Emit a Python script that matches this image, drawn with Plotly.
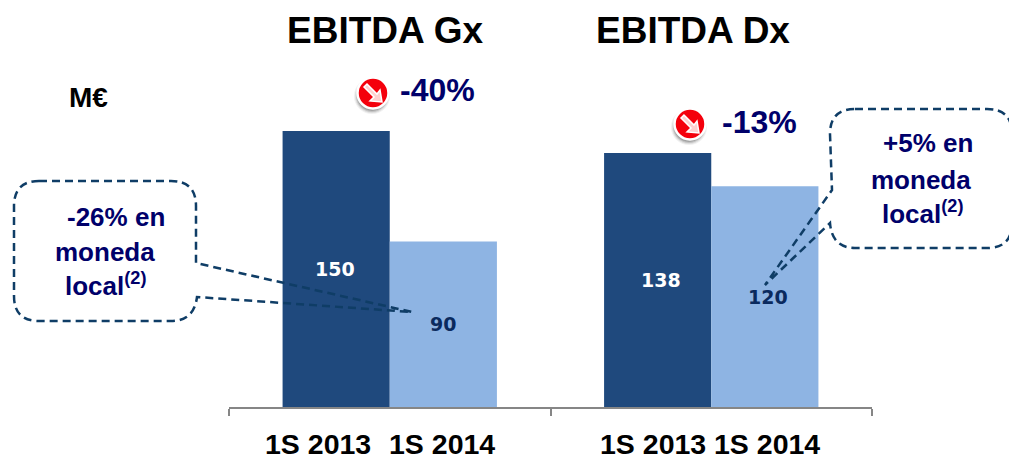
import plotly.graph_objects as go

groups = ["EBITDA Gx", "EBITDA Dx"]
period_labels = ["1S 2013", "1S 2014"]
values_2013 = [150, 138]
values_2014 = [90, 120]

W, H = 1009, 460
L, R, T, B = 229, 872, 0, 407
NAVY = "#00006A"
LINE = "#0F3D66"


def px(x):
    return (x - L) / (R - L)


def py(y):
    return (B - y) / (B - T)


def path(cmds):
    out = []
    for c in cmds:
        if isinstance(c, str):
            out.append(c)
        else:
            out.append(f"{px(c[0]):.5f},{py(c[1]):.5f}")
    return " ".join(out)


def rich(x, y, text, size, color=NAVY, family="Liberation Sans"):
    return dict(xref="paper", yref="paper", x=px(x), y=py(y), text=text, showarrow=False,
                xanchor="center", yanchor="middle",
                font=dict(size=size, color=color, family=family))


def value_label(x, value, color):
    return dict(xref="paper", yref="y", x=px(x), y=value / 2, text=f"<b>{value}</b>", showarrow=False,
                xanchor="center", yanchor="middle",
                font=dict(size=19, color=color, family="DejaVu Sans"))


def circle(cx, cy, r, **kw):
    return dict(type="circle", xref="paper", yref="paper", x0=px(cx - r), x1=px(cx + r),
                y0=py(cy + r), y1=py(cy - r), layer="above", **kw)


def icon(cx, cy):
    s = []
    for r, op in ((18, 0.06), (17, 0.08), (16, 0.12), (15, 0.16)):
        s.append(circle(cx - 1, cy + 3, r, fillcolor="#000000", opacity=op, line=dict(width=0)))
    s.append(circle(cx, cy, 15.5, fillcolor="#F4000C", line=dict(color="#FFFFFF", width=2.5)))
    arrow = path(["M", (cx - 9, cy - 6), "L", (cx - 6, cy - 9), "L", (cx + 4, cy + 1), "L", (cx + 7, cy - 3),
                  "L", (cx + 9, cy + 9), "L", (cx - 3, cy + 8), "L", (cx + 1, cy + 4), "Z"])
    s.append(dict(type="path", xref="paper", yref="paper", path=arrow, layer="above",
                  fillcolor="#FFD0D0", line=dict(color="#FFFFFF", width=1.5)))
    return s


def callout(cmds):
    return dict(type="path", xref="paper", yref="paper", path=path(cmds), layer="above",
                fillcolor="rgba(0,0,0,0)", line=dict(color=LINE, width=2.5, dash="8px,5px"))


fig = go.Figure()
fig.add_bar(x=groups, y=values_2013, name=period_labels[0], marker=dict(color="#1F497D", line=dict(width=0)))
fig.add_bar(x=groups, y=values_2014, name=period_labels[1], marker=dict(color="#8EB4E3", line=dict(width=0)))

shapes = icon(373, 93) + icon(690, 124)
shapes.append(callout(["M", (39, 181), "L", (171, 181), "Q", (196, 181), (196, 206), "L", (196, 263),
                       "L", (412, 312), "L", (197, 297), "Q", (194, 321), (171, 321), "L", (39, 321),
                       "Q", (14, 321), (14, 296), "L", (14, 206), "Q", (14, 181), (39, 181), "Z"]))
shapes.append(callout(["M", (855, 109), "L", (987, 109), "Q", (1012, 109), (1012, 134), "L", (1012, 223),
                       "Q", (1012, 248), (987, 248), "L", (855, 248), "Q", (832, 248), (830, 223),
                       "L", (765, 285), "L", (832, 190), "L", (830, 134), "Q", (830, 109), (855, 109), "Z"]))

bold = lambda s: f"<b>{s}</b>"
annotations = [
    rich(385, 30, bold(groups[0]), 37, "#000000"),
    rich(693, 30, bold(groups[1]), 37, "#000000"),
    rich(88, 97, bold("M€"), 28, "#000000"),
    rich(437, 90, bold("-40%"), 32),
    rich(759, 122, bold("-13%"), 32),
    rich(115.5, 217, bold("-26% en"), 26),
    rich(104.5, 252, bold("moneda"), 26),
    rich(105, 284, bold("local<sup>(2)</sup>"), 26),
    rich(928, 143, bold("+5% en"), 26),
    rich(921, 180, bold("moneda"), 26),
    rich(922, 212, bold("local<sup>(2)</sup>"), 26),
    rich(318, 444, bold(period_labels[0]), 28.5, "#000000"),
    rich(442, 444, bold(period_labels[1]), 28.5, "#000000"),
    rich(653, 444, bold(period_labels[0]), 28.5, "#000000"),
    rich(767, 444, bold(period_labels[1]), 28.5, "#000000"),
    value_label(335, values_2013[0], "#FFFFFF"),
    value_label(661, values_2013[1], "#FFFFFF"),
    value_label(443, values_2014[0], "#0A2A5E"),
    value_label(768, values_2014[1], "#0A2A5E"),
]

fig.update_layout(
    width=W, height=H, autosize=False,
    margin=dict(l=L, r=W - R, t=T, b=H - B, pad=0, autoexpand=False),
    plot_bgcolor="#FFFFFF", paper_bgcolor="#FFFFFF",
    barmode="group", bargap=1 / 3, bargroupgap=0, showlegend=False,
    shapes=shapes, annotations=annotations,
    font=dict(family="Liberation Sans"),
    xaxis=dict(type="category", showticklabels=False, showgrid=False, zeroline=False,
               showline=True, linecolor="#868686", linewidth=2,
               ticks="outside", tickson="boundaries", ticklen=7, tickcolor="#868686", tickwidth=2),
    yaxis=dict(visible=False, range=[0, 221.2], showgrid=False, zeroline=False),
)
fig.write_html("out.html", config=dict(displayModeBar=False),
               post_script="document.body.style.margin='0';document.documentElement.style.overflow='hidden';")
